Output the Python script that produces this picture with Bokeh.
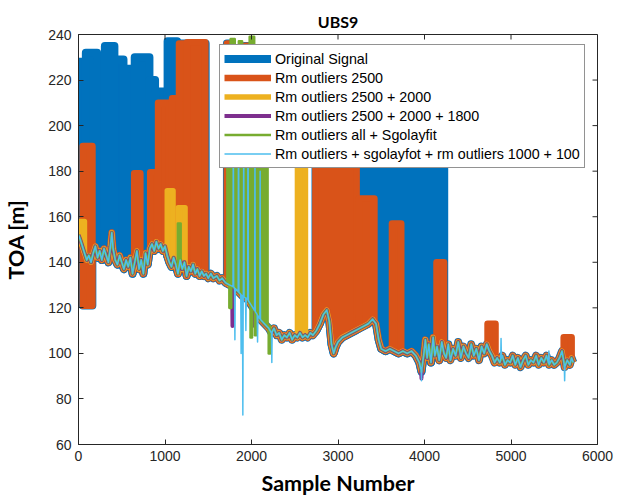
import numpy as np
from bokeh.plotting import figure
from bokeh.models import Legend, LegendItem, FixedTicker, Range1d
from bokeh.embed import file_html
from bokeh.resources import INLINE

# ---------------- data ----------------
title_text = "UBS9"
series_names = [
    "Original Signal",
    "Rm outliers 2500",
    "Rm outliers 2500 + 2000",
    "Rm outliers 2500 + 2000 + 1800",
    "Rm outliers all + Sgolayfit",
    "Rm outliers + sgolayfot + rm outliers 1000 + 100",
]
series_colors = ["#0072BD", "#D95319", "#EDB120", "#7E2F8E", "#77AC30", "#4DBEEE"]
series_widths = [8, 6.7, 5.3, 4, 2.7, 1.5]

x_ticks = [0, 1000, 2000, 3000, 4000, 5000, 6000]
y_ticks = [60, 80, 100, 120, 140, 160, 180, 200, 220, 240]

# common (cleaned) TOA trace
base_x = (
    [0, 20, 45, 70, 95, 120, 145, 170, 195, 220, 245, 270, 295, 320, 345, 370, 385, 400,
     425, 450, 475, 500, 525, 550, 575, 600, 625, 650, 675, 700, 725, 750, 775, 800,
     825, 850, 875, 900, 925, 950, 975, 1000, 1025, 1050, 1075, 1100, 1125, 1150, 1175,
     1200, 1225, 1250, 1275, 1300, 1325, 1350, 1375, 1400, 1425, 1450, 1475, 1500, 1530,
     1560, 1600, 1630, 1660, 1700]
    + [1750, 1800, 1850, 1900, 1950, 2000, 2050, 2100, 2150, 2200, 2230, 2260, 2290, 2320,
       2350, 2380, 2410, 2440, 2470, 2500, 2530, 2560, 2590, 2620, 2650, 2680, 2710, 2750,
       2790, 2830, 2870, 2900, 2925, 2950, 2975, 3000, 3050, 3100, 3150, 3200, 3250, 3300,
       3350, 3400, 3440, 3470, 3500, 3550, 3600, 3650, 3700, 3750, 3800, 3850, 3900]
    + [3940, 3965, 3990, 4010, 4030, 4050, 4075, 4100, 4120, 4145, 4170, 4200, 4225, 4250,
       4275, 4300, 4330, 4360, 4390, 4420, 4450, 4480, 4510, 4540, 4570, 4600, 4630, 4660,
       4690, 4720, 4750, 4780, 4810, 4840, 4870, 4900, 4930, 4960, 4990, 5020, 5050, 5080,
       5110, 5140, 5170, 5200, 5230, 5260, 5290, 5320, 5350, 5380, 5410, 5440, 5470, 5500,
       5530, 5560, 5590, 5620, 5650, 5680, 5700, 5720]
)
base_y = (
    [152, 150, 147, 144, 141, 143, 140, 144, 147, 142, 145, 141, 146, 143, 140, 147, 153, 146,
     141, 139, 143, 140, 137, 141, 138, 142, 135, 140, 145, 137, 141, 135, 144, 139,
     146, 148, 145, 149, 146, 148, 145, 147, 143, 140, 138, 142, 139, 135, 141,
     137, 140, 134, 138, 136, 139, 135, 137, 134, 136, 134, 135, 133, 135,
     133, 134, 132, 133, 131]
    + [130, 129, 127, 125, 124, 121, 118, 115, 113, 111, 109, 111, 108, 109,
       106, 108, 107, 109, 106, 108, 107, 109, 107, 108, 107, 109, 108, 110,
       113, 117, 119, 114, 104, 100, 103, 105, 107, 108, 109, 110, 111, 112,
       113, 115, 113, 106, 102, 101, 102, 101, 100, 101, 100, 101, 99]
    + [96, 92, 99, 106, 98, 104, 96, 107, 99, 103, 97, 105, 100, 98,
       104, 97, 102, 99, 105, 98, 103, 100, 98, 104, 99, 102, 97, 103,
       100, 104, 101, 99, 96, 98, 96, 99, 95, 97, 96, 99, 95, 98,
       94, 97, 99, 95, 97, 96, 99, 95, 98, 96, 99, 95, 97, 95,
       96, 98, 101, 94, 97, 95, 98, 96]
)
assert len(base_x) == len(base_y)

NB = float("nan")  # burst that starts at the trace itself

# outlier bursts per series: start sample, end sample, low TOA (nan = trace), high TOA
orig_start = [0, 85, 215, 305, 415, 520, 650, 820, 885, 1030, 1140, 50, 1716, 1920, 2740]
orig_end = [85, 215, 305, 415, 520, 650, 820, 885, 1030, 1140, 1470, 160, 1750, 1980, 4228]
orig_low = [NB, NB, NB, NB, NB, NB, NB, NB, NB, NB, NB, 121, NB, NB, NB]
orig_high = [228, 232, 229, 235, 229, 225, 230, 220, 215, 237, 236, 191, 236, 235, 228]

rm2500_start = [50, 645, 830, 921, 1083, 1163, 1256, 1716, 1925, 2740, 3240, 3625, 4140, 4730, 5610]
rm2500_end = [160, 714, 910, 1048, 1163, 1256, 1465, 1745, 1975, 3214, 3420, 3730, 4225, 4820, 5700]
rm2500_low = [121, NB, NB, NB, NB, NB, NB, NB, NB, NB, NB, NB, NB, NB, NB]
rm2500_high = [191, 179, 179.5, 210, 212, 236, 236.5, 236, 235, 228, 168, 157, 140, 113, 107]

rm2000_start = [0, 1025, 1152, 2530]
rm2000_end = [70, 1094, 1233, 2625]
rm2000_low = [NB, NB, NB, NB]
rm2000_high = [158, 171.5, 164, 228]

rm1800_start = [1760, 1840]
rm1800_end = [1768, 1848]
rm1800_low = [NB, NB]
rm1800_high = [200, 214]
rm1800_spike_x = [1970, 1780, 2010, 3965]
rm1800_spike_y = [190, 112, 112, 89]

sgolay_start = [1150, 1722, 1760, 1855, 1980, 1745, 1990, 2040, 2200]
sgolay_end = [1180, 2185, 1805, 1890, 2030, 1765, 2005, 2055, 2215]
sgolay_low = [NB, NB, NB, NB, NB, 120, 107, 108, 100]
sgolay_high = [157, 230, 238, 237, 239, 130, 121, 118, 112]

final_spike_x = [1790, 1850, 1910, 1960, 2040, 2100,
                 1808, 1880, 1900, 1935, 2070, 2235, 3965, 4885, 5438, 5620]
final_spike_y = [205, 228, 200, 225, 190, 180,
                 106, 100, 73, 110, 105, 96, 88, 106.5, 101, 88]

# ---------------- helpers ----------------
bx = np.array(base_x, dtype=float)
by = np.array(base_y, dtype=float)


def trace_at(x):
    return float(np.interp(x, bx, by))


def band_shapes(starts, ends, lows, highs):
    """fill areas (x, lower, upper) and closed outlines for each burst"""
    fills, xs, ys = [], [], []
    for s, e, lo, hi in zip(starts, ends, lows, highs):
        if np.isnan(lo):
            inner = [(a, b) for a, b in zip(base_x, base_y) if s < a < e]
            fx = [s] + [a for a, _ in inner] + [e]
            fl = [trace_at(s)] + [b for _, b in inner] + [trace_at(e)]
        else:
            fx = [s, e]
            fl = [lo, lo]
        fx = [float(v) for v in fx]
        fl = [float(v) for v in fl]
        fu = [float(hi)] * len(fx)
        fills.append((fx, fl, fu))
        xs.append(fx + fx[::-1])
        ys.append(fu + fl[::-1])
    return fills, xs, ys


def trace_with_spikes(sx, sy):
    pts = list(zip(base_x, base_y))
    for x, y in zip(sx, sy):
        pts = [q for q in pts if not (x - 4 < q[0] < x + 4)]
        pts += [(x - 4, trace_at(x - 4)), (x, y), (x + 4, trace_at(x + 4))]
    pts.sort(key=lambda q: q[0])
    return [q[0] for q in pts], [q[1] for q in pts]


# ---------------- figure ----------------
AX = "#262626"
FRAME_W, FRAME_H = 521, 410
X_MIN, X_MAX, Y_MIN, Y_MAX = 0, 6000, 60, 240
p = figure(width=76 + FRAME_W + 29, height=34 + FRAME_H + 54,
           output_backend="svg", toolbar_location=None,
           x_range=Range1d(X_MIN, X_MAX), y_range=Range1d(Y_MIN, Y_MAX),
           min_border_left=76, min_border_right=29, min_border_top=34, min_border_bottom=54,
           background_fill_color="white", border_fill_color="white")
p.grid.visible = False
p.outline_line_color = AX
p.outline_line_width = 1

p.title.text = title_text
p.title.text_font = "Lato"
p.title.text_font_style = "bold"
p.title.text_font_size = "16px"
p.title.align = "center"
p.title.offset = -16
p.title.standoff = 7
p.title.text_color = "black"

band_sets = [
    (orig_start, orig_end, orig_low, orig_high),
    (rm2500_start, rm2500_end, rm2500_low, rm2500_high),
    (rm2000_start, rm2000_end, rm2000_low, rm2000_high),
    (rm1800_start, rm1800_end, rm1800_low, rm1800_high),
    (sgolay_start, sgolay_end, sgolay_low, sgolay_high),
    ([], [], [], []),
]
spike_sets = [([], []), ([], []), ([], []), (rm1800_spike_x, rm1800_spike_y), ([], []),
              (final_spike_x, final_spike_y)]

items = []
for name, col, w, bands, spk in zip(series_names, series_colors, series_widths, band_sets, spike_sets):
    if len(bands[0]):
        fills, xs, ys = band_shapes(*bands)
        for fx, fl, fu in fills:
            p.varea(x=fx, y1=fl, y2=fu, fill_color=col, fill_alpha=1.0)
        p.patches(xs, ys, fill_color=None, line_color=col, line_width=w, line_join="round")
    lx, ly = trace_with_spikes(*spk)
    r = p.line(lx, ly, line_color=col, line_width=w, line_join="round", line_cap="butt")
    items.append(LegendItem(label=name, renderers=[r]))

# inward ticks on the top and right edges of the box
tick_len_y = 5 * (Y_MAX - Y_MIN) / FRAME_H
tick_len_x = 5 * (X_MAX - X_MIN) / FRAME_W
p.segment(x0=x_ticks, y0=[Y_MAX] * len(x_ticks), x1=x_ticks, y1=[Y_MAX - tick_len_y] * len(x_ticks),
          line_color=AX, line_width=1)
p.segment(x0=[X_MAX] * len(y_ticks), y0=y_ticks, x1=[X_MAX - tick_len_x] * len(y_ticks), y1=y_ticks,
          line_color=AX, line_width=1)

for ax in (p.xaxis[0], p.yaxis[0]):
    ax.major_tick_in = 5
    ax.major_tick_out = 0
    ax.minor_tick_line_color = None
    ax.axis_line_color = AX
    ax.major_tick_line_color = AX
    ax.major_label_text_font = "Liberation Sans"
    ax.major_label_text_font_size = "14px"
    ax.major_label_text_color = AX
    ax.axis_label_text_font = "Lato"
    ax.axis_label_text_font_style = "bold"
    ax.axis_label_text_color = "black"

p.xaxis[0].ticker = FixedTicker(ticks=x_ticks)
p.yaxis[0].ticker = FixedTicker(ticks=y_ticks)
p.xaxis[0].axis_label = "Sample Number"
p.yaxis[0].axis_label = "TOA [m]"
p.xaxis[0].axis_label_text_font_size = "21.5px"
p.yaxis[0].axis_label_text_font_size = "21.5px"
p.xaxis[0].major_label_standoff = 6
p.xaxis[0].axis_label_standoff = 6
p.yaxis[0].major_label_standoff = 7
p.yaxis[0].axis_label_standoff = 16

legend = Legend(items=items, location=(141, 276), spacing=0, padding=4, margin=0,
                glyph_width=47, glyph_height=19, label_height=19, label_standoff=4,
                label_text_font="Liberation Sans", label_text_font_size="14.3px",
                label_text_color="black", border_line_color=AX, border_line_width=1,
                background_fill_color="white", background_fill_alpha=1)
p.add_layout(legend)

open("out.html", "w").write(file_html(p, INLINE))
